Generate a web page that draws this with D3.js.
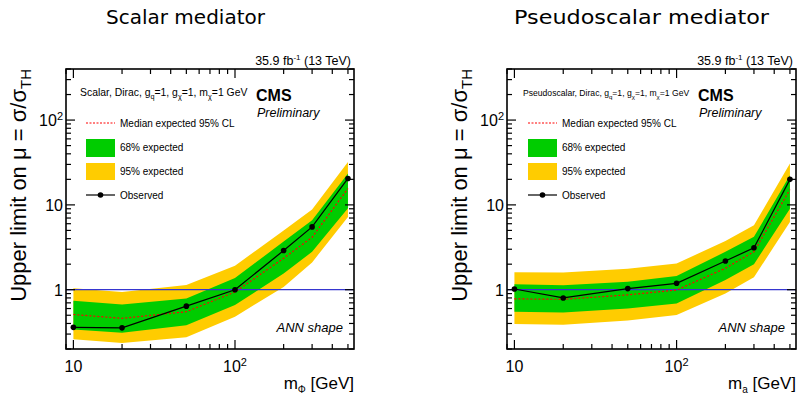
<!DOCTYPE html>
<html><head><meta charset="utf-8">
<script src="https://cdn.jsdelivr.net/npm/d3@7"></script>
<style>body{margin:0;background:#fff}svg{display:block}</style>
</head><body>
<svg id="c" width="801" height="396"></svg>
<script>
const masses = [10, 20, 50, 100, 200, 300, 500];
const scalarObserved = [0.36, 0.355, 0.64, 1.0, 2.9, 5.5, 20.5];
const scalarExpected = [0.51, 0.46, 0.55, 0.94, 2.35, 4.15, 15.6];
const scalar68Up = [0.74, 0.67, 0.79, 1.37, 3.7, 6.6, 23.5];
const scalar68Down = [0.34, 0.31, 0.38, 0.66, 1.55, 2.8, 9.1];
const scalar95Up = [1.04, 0.94, 1.14, 1.92, 5.0, 8.8, 32];
const scalar95Down = [0.26, 0.235, 0.275, 0.48, 1.08, 2.1, 7.2];
const pseudoObserved = [1.02, 0.80, 1.03, 1.19, 2.18, 3.12, 20];
const pseudoExpected = [0.78, 0.77, 0.87, 0.99, 1.79, 2.8, 15.2];
const pseudo68Up = [1.16, 1.13, 1.24, 1.45, 2.8, 4.2, 22.4];
const pseudo68Down = [0.55, 0.54, 0.60, 0.69, 1.3, 2.0, 9.0];
const pseudo95Up = [1.61, 1.6, 1.77, 2.04, 3.74, 5.77, 30.7];
const pseudo95Down = [0.395, 0.387, 0.433, 0.504, 0.9, 1.4, 6.3];
const xTickLabels = ["10", "10²"];
const yTickLabels = ["1", "10", "10²"];
const legendLabels = ["Median expected 95% CL", "68% expected", "95% expected", "Observed"];

const svg = d3.select("#c");
const SANS = "'Liberation Sans', Arial, sans-serif";

function panel(o) {
  const x = d3.scaleLog().domain([9, 545]).range([o.x0, o.x1]);
  const y = d3.scaleLog().domain([0.2, 400]).range([349, 69]);
  const g = svg.append("g");
  const rows = masses.map((m, i) => ({m, obs: o.obs[i], exp: o.exp[i], u68: o.u68[i], d68: o.d68[i], u95: o.u95[i], d95: o.d95[i]}));
  const band = (lo, hi) => d3.area().x(d => x(d.m)).y0(d => y(d[lo])).y1(d => y(d[hi]));
  g.append("path").datum(rows).attr("d", band("d95", "u95")).attr("fill", "#ffcc00");
  g.append("path").datum(rows).attr("d", band("d68", "u68")).attr("fill", "#00cc00");
  g.append("line").attr("x1", x(9)).attr("x2", x(545)).attr("y1", y(1)).attr("y2", y(1))
    .attr("stroke", "#3636d0").attr("stroke-width", 1.3);
  g.append("path").datum(rows).attr("d", d3.line().x(d => x(d.m)).y(d => y(d.exp)))
    .attr("fill", "none").attr("stroke", "#ff0000").attr("stroke-width", 1.2).attr("stroke-dasharray", "2,2");
  g.append("path").datum(rows).attr("d", d3.line().x(d => x(d.m)).y(d => y(d.obs)))
    .attr("fill", "none").attr("stroke", "#000").attr("stroke-width", 1.2);
  g.selectAll("circle.o").data(rows).join("circle").attr("cx", d => x(d.m)).attr("cy", d => y(d.obs))
    .attr("r", 2.8).attr("fill", "#000");

  // frame
  g.append("rect").attr("x", o.x0).attr("y", 69).attr("width", o.x1 - o.x0).attr("height", 280)
    .attr("fill", "none").attr("stroke", "#000").attr("stroke-width", 1.6);

  // ticks
  const xt = [];
  for (const d of [1, 10, 100]) for (let k = 1; k <= 9; k++) { const v = k * d; if (v >= 9 && v <= 545) xt.push(v); }
  xt.forEach(v => {
    const major = (v === 10 || v === 100);
    const L = major ? 9 : 5;
    g.append("line").attr("x1", x(v)).attr("x2", x(v)).attr("y1", 349).attr("y2", 349 - L).attr("stroke", "#000").attr("stroke-width", 1.2);
    g.append("line").attr("x1", x(v)).attr("x2", x(v)).attr("y1", 69).attr("y2", 69 + L).attr("stroke", "#000").attr("stroke-width", 1.2);
  });
  const yt = [];
  for (const d of [0.1, 1, 10, 100]) for (let k = 1; k <= 9; k++) { const v = +(k * d).toPrecision(3); if (v >= 0.2 && v <= 400) yt.push(v); }
  yt.forEach(v => {
    const major = (v === 1 || v === 10 || v === 100);
    const L = major ? 9 : 5;
    g.append("line").attr("x1", o.x0).attr("x2", o.x0 + L).attr("y1", y(v)).attr("y2", y(v)).attr("stroke", "#000").attr("stroke-width", 1.2);
    g.append("line").attr("x1", o.x1).attr("x2", o.x1 - L).attr("y1", y(v)).attr("y2", y(v)).attr("stroke", "#000").attr("stroke-width", 1.2);
  });

  // tick labels
  [10, 100].forEach((v, i) => {
    const t = g.append("text").attr("x", x(v)).attr("y", 372).attr("text-anchor", "middle")
      .attr("font-family", SANS).attr("font-size", 16);
    if (i === 0) t.text(xTickLabels[0]);
    else { t.append("tspan").text("10"); t.append("tspan").attr("dy", -6).attr("font-size", 11).text("2"); }
  });
  [1, 10, 100].forEach((v, i) => {
    const t = g.append("text").attr("x", o.x0 - 3).attr("y", y(v) + 6).attr("text-anchor", "end")
      .attr("font-family", SANS).attr("font-size", 16);
    if (i < 2) t.text(yTickLabels[i]);
    else { t.append("tspan").text("10"); t.append("tspan").attr("dy", -6).attr("font-size", 11).text("2"); }
  });

  // axis titles
  const xl = g.append("text").attr("x", o.x1).attr("y", 389).attr("text-anchor", "end")
    .attr("font-family", SANS).attr("font-size", 17);
  xl.append("tspan").text("m");
  xl.append("tspan").attr("dy", 4).attr("font-size", 10).text(o.sub);
  xl.append("tspan").attr("dy", -4).text(" [GeV]");

  const yl = g.append("text").attr("transform", `translate(${o.x0 - 40},69) rotate(-90)`)
    .attr("text-anchor", "end").attr("font-family", SANS).attr("font-size", 22);
  yl.append("tspan").text("Upper limit on μ = σ/σ");
  yl.append("tspan").attr("dy", 5).attr("font-size", 15).text("TH");

  // header
  const lum = g.append("text").attr("x", o.x1 - 3).attr("y", 65).attr("text-anchor", "end")
    .attr("font-family", SANS).attr("font-size", 12.5);
  lum.append("tspan").text("35.9 fb");
  lum.append("tspan").attr("dy", -5).attr("font-size", 8).text("-1");
  lum.append("tspan").attr("dy", 5).text(" (13 TeV)");

  g.append("text").attr("x", o.titleX).attr("y", 24).attr("text-anchor", "start")
    .attr("font-family", "'DejaVu Sans', sans-serif").attr("font-size", 19)
    .attr("textLength", o.titleW).attr("lengthAdjust", "spacingAndGlyphs").text(o.title);

  // model text
  const mt = g.append("text").attr("x", o.x0 + o.mOff).attr("y", 96).attr("font-family", SANS).attr("font-size", o.mSize);
  mt.append("tspan").text(o.model + ", Dirac, g");
  mt.append("tspan").attr("dy", 3).attr("font-size", o.mSize * 0.7).text("q");
  mt.append("tspan").attr("dy", -3).text("=1, g");
  mt.append("tspan").attr("dy", 3).attr("font-size", o.mSize * 0.7).text("χ");
  mt.append("tspan").attr("dy", -3).text("=1, m");
  mt.append("tspan").attr("dy", 3).attr("font-size", o.mSize * 0.7).text("χ");
  mt.append("tspan").attr("dy", -3).text("=1 GeV");

  g.append("text").attr("x", o.x0 + o.cmsOff).attr("y", 101).attr("font-family", SANS).attr("font-size", 16)
    .attr("font-weight", "bold").text("CMS");
  g.append("text").attr("x", o.x0 + o.cmsOff + 1).attr("y", 117).attr("font-family", SANS).attr("font-size", 12.5)
    .attr("font-style", "italic").text("Preliminary");

  // legend
  const lx = o.x0 + o.legOff;
  g.append("line").attr("x1", lx).attr("x2", lx + 29).attr("y1", 123).attr("y2", 123)
    .attr("stroke", "#ff0000").attr("stroke-width", 1).attr("stroke-dasharray", "2,1.5");
  g.append("rect").attr("x", lx).attr("y", 139).attr("width", 29).attr("height", 18).attr("fill", "#00cc00");
  g.append("rect").attr("x", lx).attr("y", 163).attr("width", 29).attr("height", 17).attr("fill", "#ffcc00");
  g.append("line").attr("x1", lx).attr("x2", lx + 29).attr("y1", 195).attr("y2", 195).attr("stroke", "#000").attr("stroke-width", 1.2);
  g.append("circle").attr("cx", lx + 14.5).attr("cy", 195).attr("r", 2.8).attr("fill", "#000");
  [127, 151, 175, 199].forEach((yy, i) => {
    g.append("text").attr("x", lx + 34).attr("y", yy).attr("font-family", SANS).attr("font-size", 10).text(legendLabels[i]);
  });

  g.append("text").attr("x", o.x1 - 11).attr("y", 332).attr("text-anchor", "end").attr("font-family", SANS)
    .attr("font-size", 13).attr("font-style", "italic").text("ANN shape");
}

panel({x0: 66, x1: 354, obs: scalarObserved, exp: scalarExpected, u68: scalar68Up, d68: scalar68Down,
  u95: scalar95Up, d95: scalar95Down, sub: "Φ", title: "Scalar mediator", titleX: 106, titleW: 159, model: "Scalar",
  mOff: 14, mSize: 10.4, cmsOff: 190, legOff: 20});
panel({x0: 507, x1: 796, obs: pseudoObserved, exp: pseudoExpected, u68: pseudo68Up, d68: pseudo68Down,
  u95: pseudo95Up, d95: pseudo95Down, sub: "a", title: "Pseudoscalar mediator", titleX: 514, titleW: 255, model: "Pseudoscalar",
  mOff: 16, mSize: 8.6, cmsOff: 191, legOff: 21});
</script>
</body></html>
